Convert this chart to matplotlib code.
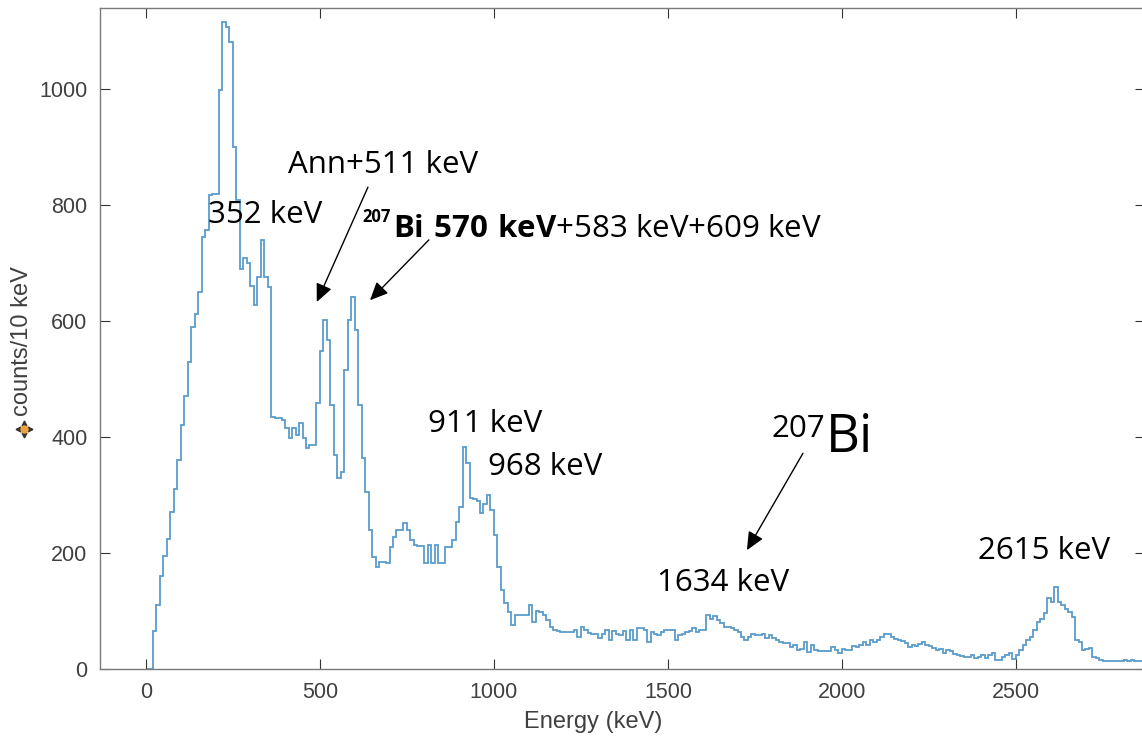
import numpy as np
import matplotlib
matplotlib.use("Agg")
import matplotlib.pyplot as plt

# counts per 10 keV bin, bins start at 0 keV
bin_width = 10
counts = [
    0, 0, 65, 110, 160, 195, 225, 270, 310, 360,            # 0-90
    420, 470, 530, 590, 613, 650, 745, 757, 817, 820,       # 100-190
    820, 998, 1116, 1107, 1082, 900, 809, 690, 708, 700,    # 200-290
    660, 627, 676, 740, 676, 659, 435, 433, 433, 430,       # 300-390
    416, 398, 416, 403, 424, 398, 381, 386, 386, 459,       # 400-490
    548, 602, 567, 455, 369, 329, 340, 516, 602, 641,       # 500-590
    584, 455, 364, 306, 240, 194, 176, 185, 184, 183,       # 600-690
    211, 228, 240, 240, 252, 240, 222, 214, 212, 212,       # 700-790
    183, 214, 183, 214, 183, 183, 210, 210, 222, 254,       # 800-890
    280, 383, 355, 295, 293, 290, 269, 285, 300, 274,       # 900-990
    231, 176, 136, 114, 98, 76, 93, 93, 93, 93,             # 1000-1090
    110, 81, 100, 98, 93, 85, 72, 68, 66, 64,               # 1100-1190
    64, 64, 64, 67, 55, 72, 68, 62, 60, 60,                 # 1200-1290
    53, 60, 68, 50, 65, 60, 58, 65, 50, 68,                 # 1300-1390
    50, 71, 71, 68, 47, 63, 60, 58, 63, 68,                 # 1400-1490
    68, 68, 50, 58, 60, 63, 66, 70, 64, 67,                 # 1500-1590
    67, 93, 87, 91, 85, 80, 73, 73, 70, 67,                 # 1600-1690
    64, 56, 50, 56, 61, 58, 58, 61, 53, 58,                 # 1700-1790
    53, 50, 47, 44, 44, 38, 42, 33, 35, 47,                 # 1800-1890
    30, 42, 32, 31, 31, 31, 31, 38, 32, 27,                 # 1900-1990
    35, 33, 33, 40, 38, 42, 47, 42, 50, 47,                 # 2000-2090
    50, 56, 61, 61, 56, 52, 50, 48, 44, 38,                 # 2100-2190
    42, 40, 43, 47, 42, 40, 37, 33, 35, 28,                 # 2200-2290
    33, 31, 26, 24, 22, 21, 21, 24, 19, 21,                 # 2300-2390
    24, 19, 24, 27, 15, 16, 21, 24, 27, 18,                 # 2400-2490
    24, 33, 41, 50, 56, 67, 81, 87, 96, 122,                # 2500-2590
    116, 142, 116, 110, 104, 99, 90, 50, 47, 33,            # 2600-2690
    35, 36, 21, 19, 15, 13, 13, 13, 14, 13,                 # 2700-2790
    13, 16, 13, 15, 13, 13, 13,                             # 2800-2860
]
edges = np.arange(len(counts) + 1) * bin_width

xticks = [0, 500, 1000, 1500, 2000, 2500]
yticks = [0, 200, 400, 600, 800, 1000]

plt.rcParams["mathtext.fontset"] = "custom"
plt.rcParams["mathtext.rm"] = "Open Sans"
plt.rcParams["mathtext.bf"] = "Open Sans:bold"

W, H = 1142, 736
fig = plt.figure(figsize=(W / 100, H / 100), dpi=100)
ax = fig.add_axes([100 / W, 67 / H, 1045 / W, 661 / H])

ax.stairs(counts, edges, color="#5a9ccc", lw=1.3, baseline=0)

ax.set_xlim(-132, 2871)
ax.set_ylim(0, 1140)
ax.set_xticks(xticks)
ax.set_yticks(yticks)
ax.tick_params(direction="in", top=True, right=True, length=7, width=0.8,
               color="#333333", labelcolor="#404040", labelsize=15.5, pad=9)
for lab in ax.get_xticklabels() + ax.get_yticklabels():
    lab.set_family("Liberation Sans")
for sp in ax.spines.values():
    sp.set_color("#7a7a7a")
    sp.set_linewidth(1.0)

fig.text(593 / W, 1 - 722 / H, "Energy (keV)", ha="center", va="center",
         family="Liberation Sans", fontsize=17, color="#404040")
fig.text(22 / W, 1 - 341 / H, "counts/10 keV", ha="center", va="center",
         rotation=90, family="Liberation Sans", fontsize=17, color="#404040")

# little pan cursor icon next to the y label
cx, cy = 24 / W, 1 - 429 / H
d = 6
for dx, dy, m in [(-d, 0, "<"), (d, 0, ">"), (0, d, "^"), (0, -d, "v")]:
    fig.add_artist(plt.Line2D([cx + dx / W], [cy + dy / H], marker=m, ms=3.5,
                              color="#333333", transform=fig.transFigure))
fig.add_artist(plt.Line2D([cx], [cy], marker="o", ms=5, color="#f0a040",
                          transform=fig.transFigure))

lbl = dict(family="Open Sans", fontsize=22.5, color="black", va="center", ha="left")
ax.text(178, 783, "352 keV", **lbl)
ax.text(408, 869, "Ann+511 keV", **lbl)
ax.text(621, 771, "207", family="Open Sans", fontweight="bold", fontsize=12,
        ha="left", va="baseline")
ax.text(710, 745, r"$\mathbf{Bi\ 570\ keV}$+583 keV+609 keV",
        family="Open Sans", fontsize=22.5, ha="left", va="baseline")
ax.text(810, 422, "911 keV", **lbl)
ax.text(983, 348, "968 keV", **lbl)
ax.text(1468, 148, "1634 keV", **lbl)
ax.text(2391, 203, "2615 keV", **lbl)
ax.text(1799, 400, "207", family="Open Sans", fontsize=22.5, ha="left", va="baseline")
ax.text(1954, 374, "Bi", family="Open Sans", fontsize=38, ha="left", va="baseline")

arrow = dict(arrowstyle="-|>,head_length=0.55,head_width=0.25", color="black",
             lw=1.0, mutation_scale=20, shrinkA=0, shrinkB=0)
ax.annotate("", xy=(491, 633), xytext=(638, 831), arrowprops=arrow)
ax.annotate("", xy=(644, 636), xytext=(813, 740), arrowprops=arrow)
ax.annotate("", xy=(1727, 205), xytext=(1888, 372), arrowprops=arrow)

fig.savefig("out.png", dpi=100)
